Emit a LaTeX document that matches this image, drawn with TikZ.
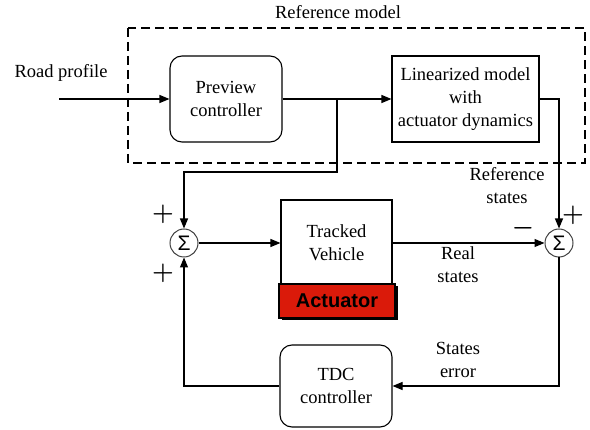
\documentclass[tikz,border=0pt]{standalone}
\usepackage{fontspec}
\setmainfont{Liberation Serif}
\newfontfamily\actfont{Liberation Sans}
\usetikzlibrary{arrows.meta}
\definecolor{actred}{RGB}{218,26,10}
\tikzset{
  txt/.style = {align=center, inner sep=0pt, font=\fontsize{18.5}{23}\selectfont},
  block/.style = {txt, draw, line width=1.1pt},
  rblock/.style = {block, rounded corners=12pt},
  sumnode/.style = {circle, draw=black!75, line width=1pt, minimum size=28pt,
    inner sep=0pt, font=\actfont\fontsize{21}{21}\selectfont},
  actbox/.style = {draw, line width=1.1pt, fill=actred, minimum width=116pt,
    minimum height=34pt, inner sep=0pt, font=\actfont\bfseries\fontsize{20}{20}\selectfont},
  sign/.style = {inner sep=0pt, font=\boldmath\fontsize{25}{25}\selectfont},
}

\begin{document}
\begin{tikzpicture}[x=1pt,y=-1pt,>={Triangle[length=10pt,width=8pt]},line width=1.1pt]
\useasboundingbox (0,0) rectangle (590,430);

% reference model
\draw[dash pattern=on 9pt off 5pt,line width=1.4pt] (128,28) rectangle (585,163);
\node[txt] (reftitle) at (338,12) {Reference model};
\node[txt] (roadtxt) at (61,73) {Road profile};
\coordinate (road) at (59,99);
\node[rblock, minimum width=112pt, minimum height=86pt] (preview) at (226,99) {Preview\\controller};
\node[block, minimum width=147pt, minimum height=86pt] (linmodel) at (465.5,99) {Linearized model\\with\\actuator dynamics};

% plant and summing points
\node[sumnode] (sum1) at (184,243) {Σ};
\node[sumnode] (sum2) at (559,243) {Σ};
\node[block, minimum width=111pt, minimum height=86pt] (vehicle) at (336.5,243) {Tracked\\Vehicle};
\node[actbox, fill=black, draw=none] (actshadow) at (339.5,303.5) {};
\node[actbox] (actuator) at (337,301) {Actuator};
\node[rblock, minimum width=112pt, minimum height=82pt] (tdc) at (336,386) {TDC\\controller};

% labels
\node[txt] (refstates) at (507,186) {Reference\\states};
\node[txt] (realstates) at (458,265) {Real\\states};
\node[txt] (errstates) at (458,360) {States\\error};
\node[sign] (p1) at (163,214) {$+$};
\node[sign] (p2) at (163,273) {$+$};
\node[sign] (p3) at (573,215) {$+$};
\node[sign] (m1) at (523,228) {$-$};

% connectors
\coordinate (branch) at (337,99);
\coordinate (turn) at (337,172);
\draw[->] (road) -- (preview.west);
\draw[->] (preview.east) -- (linmodel.west);
\draw[->] (linmodel.east) -| (sum2.north);
\draw[->] (branch) -- (turn) -| (sum1.north);
\draw[->] (sum1.east) -- (vehicle.west);
\draw[->] (vehicle.east) -- (sum2.west);
\draw[->] (sum2.south) |- (tdc.east);
\draw[->] (tdc.west) -| (sum1.south);
\end{tikzpicture}
\end{document}
